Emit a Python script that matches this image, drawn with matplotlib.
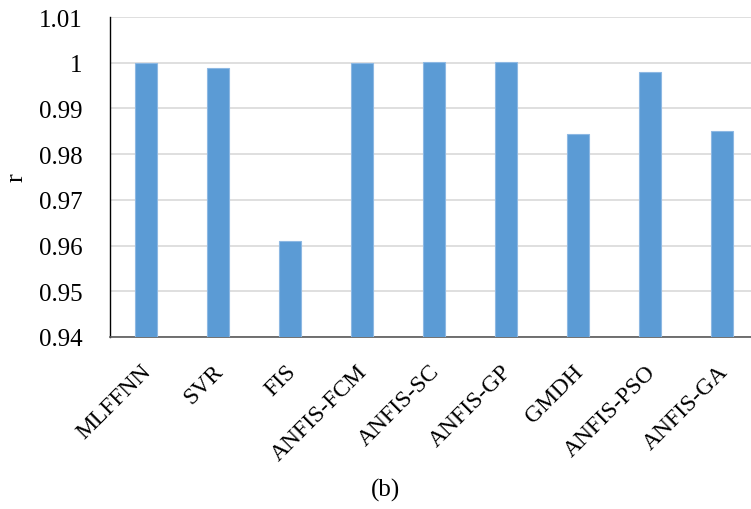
import matplotlib
matplotlib.use("Agg")
import matplotlib.pyplot as plt
import matplotlib.transforms as mtransforms
import numpy as np

categories = ["MLFFNN", "SVR", "FIS", "ANFIS-FCM", "ANFIS-SC", "ANFIS-GP",
              "GMDH", "ANFIS-PSO", "ANFIS-GA"]
r_values = [0.9999, 0.9988, 0.9609, 0.9999, 1.0001, 1.0001, 0.9844, 0.9980, 0.9851]
yticks = [0.94, 0.95, 0.96, 0.97, 0.98, 0.99, 1.00, 1.01]
ytick_labels = ["0.94", "0.95", "0.96", "0.97", "0.98", "0.99", "1", "1.01"]

plt.rcParams['font.family'] = ['Liberation Serif', 'DejaVu Serif']

fig = plt.figure(figsize=(7.51, 5.10), dpi=100)
ax = fig.add_axes([110/751, 1 - 338/510, (751 - 110)/751, (338 - 18)/510])

x = np.arange(len(categories))
ax.bar(x, r_values, width=0.3, color="#5B9BD5", edgecolor="#8DB8E3", linewidth=0.8,
       zorder=3)

ax.set_ylim(0.94, 1.01)
ax.set_xlim(-0.5, 8.5 - 7/72)
ax.set_yticks(yticks)
ax.set_yticklabels(ytick_labels, fontsize=18)
ax.set_xticks(x)
ax.set_xticklabels(categories, rotation=45, ha="right", va="top",
                   rotation_mode="anchor", fontsize=17)
ax.tick_params(axis="both", length=0)
ax.tick_params(axis="x", pad=17)
ax.tick_params(axis="y", pad=20)

offset = mtransforms.ScaledTranslation(-5/100, 0, fig.dpi_scale_trans)
for lbl in ax.get_xticklabels():
    lbl.set_transform(lbl.get_transform() + offset)

ax.grid(axis="y", color="#D9D9D9", linewidth=1.2, zorder=0)
ax.set_axisbelow(True)
for s in ["top", "right"]:
    ax.spines[s].set_visible(False)
ax.spines["left"].set_color("#000000")
ax.spines["left"].set_linewidth(1.0)
ax.spines["bottom"].set_color("#595959")
ax.spines["bottom"].set_linewidth(1.2)

ax.set_ylabel("r", fontsize=19, labelpad=8)

fig.text(385/751, 1 - 490/510, "(b)", fontsize=18, ha="center", va="center")

fig.savefig("out.png", dpi=100)
